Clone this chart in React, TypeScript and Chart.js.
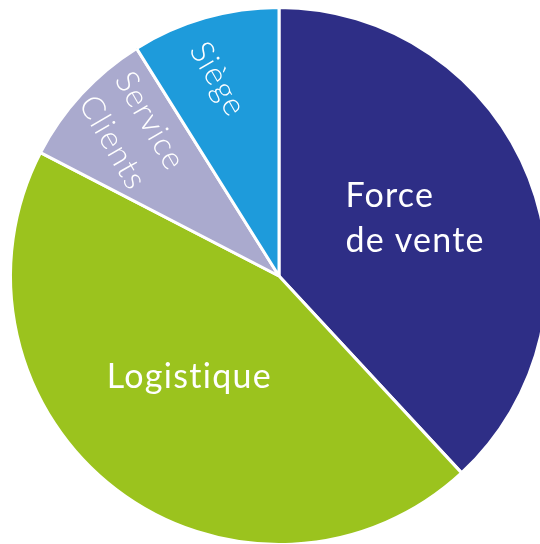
import React, { useEffect, useRef } from "react";
import { Chart, registerables } from "chart.js";

Chart.register(...registerables);

const categories: string[][] = [["Force", "de vente"], ["Logistique"], ["Service", "Clients"], ["Siège"]];
const values: number[] = [38.1, 44.5, 8.5, 8.9];
const colors: string[] = ["#2E2E86", "#9BC31E", "#AAAACE", "#1E9BDB"];
const labelRadius: number[] = [0.55, 0.5, 0.77, 0.77];
const labelAngleOffsetDeg: number[] = [-2, 5, 2, -1];
const labelRotationDeg: number[] = [0, 0, 60, 60];
const labelAlign: string[] = ["left", "center", "center", "center"];
const labelFontSize: number[] = [34, 34, 32, 32];
const labelFontWeight: number[] = [400, 400, 300, 300];
const labelSpacing: number[] = [1.2, 1.3, 1.2, 1.4];
const labelLineHeight: number[] = [45, 45, 43, 43];

const labelPlugin = {
  id: "sliceLabels",
  afterDatasetsDraw(chart: any) {
    const ctx: any = chart.ctx;
    const meta = chart.getDatasetMeta(0);
    meta.data.forEach((arc: any, i: number) => {
      const p = arc.getProps(["x", "y", "startAngle", "endAngle", "outerRadius"], true);
      const mid = (p.startAngle + p.endAngle) / 2 + (labelAngleOffsetDeg[i] * Math.PI) / 180;
      const r = p.outerRadius * labelRadius[i];
      const cx = p.x + Math.cos(mid) * r;
      const cy = p.y + Math.sin(mid) * r;
      const lines = categories[i];
      ctx.save();
      ctx.translate(cx, cy);
      ctx.rotate((labelRotationDeg[i] * Math.PI) / 180);
      const size = labelFontSize[i];
      ctx.font = `${labelFontWeight[i]} ${size}px Lato`;
      ctx.letterSpacing = `${labelSpacing[i]}px`;
      ctx.fillStyle = "#FFFFFF";
      ctx.textBaseline = "alphabetic";
      const capH = size * 0.72;
      const lh = labelLineHeight[i];
      const widths = lines.map((l: string) => ctx.measureText(l).width - labelSpacing[i]);
      const maxW = Math.max(...widths);
      lines.forEach((line: string, j: number) => {
        const y = (j - (lines.length - 1) / 2) * lh + capH / 2;
        if (labelAlign[i] === "left") {
          ctx.textAlign = "left";
          ctx.fillText(line, -maxW / 2, y);
        } else {
          ctx.textAlign = "left";
          ctx.fillText(line, -widths[j] / 2, y);
        }
      });
      ctx.restore();
    });
  },
};

export default function App() {
  const ref = useRef<HTMLCanvasElement | null>(null);
  useEffect(() => {
    if (!ref.current) return;
    const chart = new Chart(ref.current, {
      type: "pie",
      data: {
        labels: categories.map((c) => c.join(" ")),
        datasets: [
          {
            data: values,
            backgroundColor: colors,
            borderColor: "#FFFFFF",
            borderWidth: 3,
          },
        ],
      },
      options: {
        responsive: false,
        animation: false,
        layout: { padding: { top: 6, bottom: 6, left: 0, right: 0 } },
        plugins: {
          legend: { display: false },
          tooltip: { enabled: false },
        },
      },
      plugins: [labelPlugin],
    });
    return () => chart.destroy();
  }, []);
  return (
    <div
      style={{
        position: "fixed",
        left: 0,
        top: 0,
        width: 540,
        height: 544,
        overflow: "hidden",
        background: "#FFFFFF",
      }}
    >
      <canvas ref={ref} width={558} height={552} style={{ display: "block" }} />
    </div>
  );
}
